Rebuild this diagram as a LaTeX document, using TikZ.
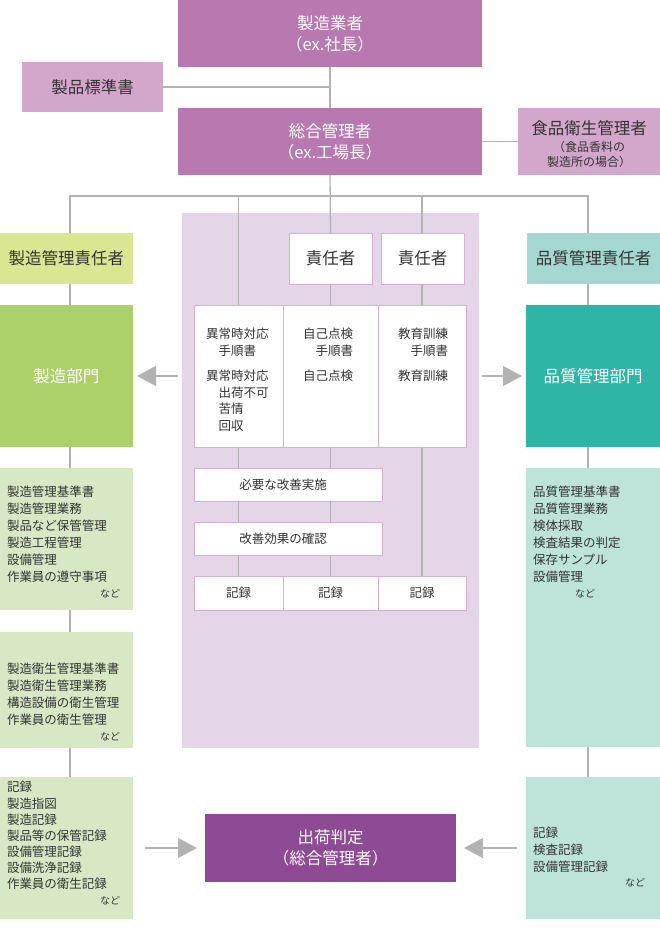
\documentclass[tikz,border=0pt]{standalone}
\usepackage{fontspec}
\setmainfont{Noto Sans CJK JP}
\usetikzlibrary{arrows.meta}
\definecolor{topP}{HTML}{B878B0}
\definecolor{stdP}{HTML}{D3A7CC}
\definecolor{bgP}{HTML}{E5D5E8}
\definecolor{bordP}{HTML}{D9B0D4}
\definecolor{ylw}{HTML}{DCE692}
\definecolor{grn}{HTML}{ACD06A}
\definecolor{lgrn}{HTML}{D8E8C5}
\definecolor{tealA}{HTML}{A3D7D0}
\definecolor{tealB}{HTML}{2FB5A6}
\definecolor{tealC}{HTML}{BEE3DA}
\definecolor{shipP}{HTML}{8F4A96}
\definecolor{lineG}{HTML}{B3B3B3}
\definecolor{txt}{HTML}{333333}
\newcommand\mkbox[7]{\node[anchor=north west, minimum width=#4pt, minimum height=#5pt, #6] (#1) at (#2,#3) {#7};}
\begin{document}
\begin{tikzpicture}[x=1pt,y=-1pt,
  every node/.style={inner sep=0pt, outer sep=0pt, text=txt},
  conn/.style={draw=lineG, line width=1.3pt},
  arr/.style={conn, -{Triangle[length=19pt,width=20pt]}},
  bigT/.style={font=\fontsize{16.5}{21}\selectfont, align=center},
  midT/.style={font=\fontsize{12.5}{16.7}\selectfont, align=center},
  wbox/.style={fill=white, draw=bordP, line width=0.8pt, midT},
  smallT/.style={font=\fontsize{12.5}{17}\selectfont, align=left, anchor=north west},
  ndT/.style={font=\fontsize{10}{12}\selectfont},
  subT/.style={font=\fontsize{12}{15}\selectfont}
]
\useasboundingbox (0,0) rectangle (660,930);
% background panel
\mkbox{bg}{182}{213}{297}{535}{fill=bgP}{}
% top
\mkbox{top}{178}{0}{304}{67}{fill=topP, bigT, text=white}{製造業者\\（ex.社長）}
\mkbox{std}{22}{62}{141}{50}{fill=stdP, bigT}{製品標準書}
\mkbox{gen}{178}{108}{304}{67}{fill=topP, bigT, text=white}{総合管理者\\（ex.工場長）}
\mkbox{food}{518}{108}{142}{67}{fill=stdP}{}
\node[bigT] (foodA) at (589,128) {食品衛生管理者};
\node[subT] (foodB) at (589,147) {（食品香料の};
\node[subT] (foodC) at (589,162) {製造所の場合）};
% responsible persons
\mkbox{r1}{289}{233}{83}{51}{fill=white, draw=bordP, line width=0.8pt, bigT}{責任者}
\mkbox{r2}{381}{233}{83}{51}{fill=white, draw=bordP, line width=0.8pt, bigT}{責任者}
\mkbox{mfgL}{0}{233}{133}{51}{fill=ylw, bigT}{製造管理責任者}
\mkbox{qaL}{527}{233}{133}{51}{fill=tealA, bigT}{品質管理責任者}
% departments
\mkbox{mfgD}{0}{305}{133}{142}{fill=grn, bigT, text=white}{製造部門}
\mkbox{qaD}{526}{305}{134}{142}{fill=tealB, bigT, text=white}{品質管理部門}
% centre column
\mkbox{c1}{194}{305}{89}{142}{wbox}{}
\mkbox{c2}{283}{305}{95}{142}{wbox}{}
\mkbox{c3}{378}{305}{88}{142}{wbox}{}
\node[smallT, font=\fontsize{12.5}{16.7}\selectfont] (c1t) at (206,328.4) {異常時対応\\\hspace*{1em}手順書\\[8pt]異常時対応\\\hspace*{1em}出荷不可\\\hspace*{1em}苦情\\\hspace*{1em}回収};
\node[smallT, font=\fontsize{12.5}{16.7}\selectfont] (c2t) at (303,328.4) {自己点検\\\hspace*{1em}手順書\\[8pt]自己点検};
\node[smallT, font=\fontsize{12.5}{16.7}\selectfont] (c3t) at (398,328.4) {教育訓練\\\hspace*{1em}手順書\\[8pt]教育訓練};
\mkbox{imp}{194}{468}{188}{33}{wbox}{}
\node[midT] (impt) at (283,485) {必要な改善実施};
\mkbox{eff}{194}{522}{188}{33}{wbox}{}
\node[midT] (efft) at (283,538.5) {改善効果の確認};
\mkbox{k1}{194}{576}{89}{34}{wbox}{記録}
\mkbox{k2}{283}{576}{95}{34}{wbox}{記録}
\mkbox{k3}{378}{576}{88}{34}{wbox}{記録}
% green lists
\mkbox{g1}{0}{468}{133}{142}{fill=lgrn}{}
\mkbox{g2}{0}{632}{133}{116}{fill=lgrn}{}
\mkbox{g3}{0}{777}{133}{142}{fill=lgrn}{}
\node[smallT] (g1t) at (7,486.4) {製造管理基準書\\製造管理業務\\製品など保管管理\\製造工程管理\\設備管理\\作業員の遵守事項};
\node[ndT, anchor=east] (g1n) at (120,594) {など};
\node[smallT] (g2t) at (7,663.4) {製造衛生管理基準書\\製造衛生管理業務\\構造設備の衛生管理\\作業員の衛生管理};
\node[ndT, anchor=east] (g2n) at (120,737) {など};
\node[smallT, font=\fontsize{12.5}{16.1}\selectfont] (g3t) at (7,781.4) {記録\\製造指図\\製造記録\\製品等の保管記録\\設備管理記録\\設備洗浄記録\\作業員の衛生記録};
\node[ndT, anchor=east] (g3n) at (120,901) {など};
% teal lists
\mkbox{t1}{526}{468}{134}{279}{fill=tealC}{}
\mkbox{t2}{526}{777}{134}{142}{fill=tealC}{}
\node[smallT] (t1t) at (533,486.4) {品質管理基準書\\品質管理業務\\検体採取\\検査結果の判定\\保存サンプル\\設備管理};
\node[ndT] (t1n) at (585,594) {など};
\node[smallT] (t2t) at (533,827.4) {記録\\検査記録\\設備管理記録};
\node[ndT] (t2n) at (635,883) {など};
% shipping decision
\mkbox{ship}{205}{814}{251}{68}{fill=shipP, bigT, text=white}{出荷判定\\（総合管理者）}
% bus coordinates
\coordinate (xL) at (70,196);
\coordinate (xR) at (588,196);
% connectors
\draw[conn] (top.south) -- (gen.north);
\draw[conn] (std.east) -- (std.east -| top.south);
\draw[conn] (gen.east) -- (food.west);
\draw[conn] (gen.south) -- (r1.north);
\draw[conn] (mfgL.north -| xL) -- (xL) -- (xR) -- (qaL.north -| xR);
\draw[conn] (c1.north) -- (c1.north |- xL);
\draw[conn] (c3.north |- r2.north) -- (c3.north |- xL);
\draw[conn] (r1.south) -- (c2.north);
\draw[conn] (c3.north |- r2.south) -- (c3.north);
\draw[conn] (mfgL.south -| xL) -- (mfgD.north -| xL);
\draw[conn] (qaL.south -| xR) -- (qaD.north -| xR);
\draw[conn] (c1.south) -- (c1.south |- imp.north);
\draw[conn] (c2.south) -- (c2.south |- imp.north);
\draw[conn] (c1.south |- imp.south) -- (c1.south |- eff.north);
\draw[conn] (c2.south |- imp.south) -- (c2.south |- eff.north);
\draw[conn] (c1.south |- eff.south) -- (k1.north);
\draw[conn] (c2.south |- eff.south) -- (k2.north);
\draw[conn] (c3.south) -- (k3.north);
\draw[conn] (mfgD.south -| xL) -- (g1.north -| xL);
\draw[conn] (g1.south -| xL) -- (g2.north -| xL);
\draw[conn] (g2.south -| xL) -- (g3.north -| xL);
\draw[conn] (qaD.south -| xR) -- (t1.north -| xR);
\draw[conn] (t1.south -| xR) -- (t2.north -| xR);
% arrows
\draw[arr] ([xshift=-16pt]c1.west) -- ([xshift=4pt]mfgD.east);
\draw[arr] ([xshift=16pt]c3.east) -- ([xshift=-4pt]qaD.west);
\draw[arr] ([xshift=12pt]g3.east) -- ([xshift=-8pt]ship.west);
\draw[arr] ([xshift=-9pt]t2.west) -- ([xshift=8pt]ship.east);
\end{tikzpicture}
\end{document}
